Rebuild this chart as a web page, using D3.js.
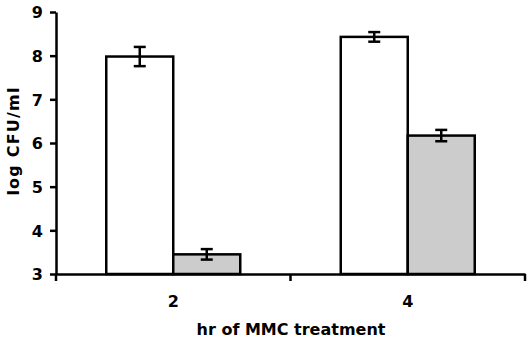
<!DOCTYPE html>
<html>
  <head>
    <meta charset="utf-8">
    <title>log CFU/ml by hr of MMC treatment</title>
    <script src="https://cdn.jsdelivr.net/npm/d3@7"></script>
    <style>
      body { margin: 0; background: #fff; }
      text { font-family: "DejaVu Sans", Verdana, sans-serif; font-weight: bold; fill: #000; }
    </style>
  </head>
  <body>
    <svg id="chart" width="532" height="342"></svg>

    <script>
      // data
      const hours = ["2", "4"];
      const series = ["control", "mmc"];
      const controlMeans = [7.98, 8.43];
      const controlErrs = [0.22, 0.11];
      const mmcMeans = [3.45, 6.17];
      const mmcErrs = [0.12, 0.13];
      const yTicks = [3, 4, 5, 6, 7, 8, 9];

      const fills = { control: "#ffffff", mmc: "#cccccc" };

      const rows = [];
      hours.forEach(function(h, i) {
        rows.push({ hr: h, key: "control", mean: controlMeans[i], err: controlErrs[i] });
        rows.push({ hr: h, key: "mmc", mean: mmcMeans[i], err: mmcErrs[i] });
      });

      // layout
      const svg = d3.select("#chart");
      const pLeft = 56, pRight = 525, pTop = 12, pBottom = 274;

      const x = d3.scaleBand()
        .domain(hours)
        .range([pLeft, pRight]);
      const xInner = d3.scaleBand()
        .domain(series)
        .range([0, 134]);
      const y = d3.scaleLinear()
        .domain([3, 9])
        .range([pBottom, pTop]);

      function barX(d) { return x(d.hr) + x.bandwidth() / 2 - 67 + xInner(d.key); }

      // bars
      const g = svg.append("g");
      g.selectAll("rect")
        .data(rows)
      .enter().append("rect")
        .attr("x", barX)
        .attr("y", function(d) { return y(d.mean); })
        .attr("width", xInner.bandwidth())
        .attr("height", function(d) { return pBottom - y(d.mean); })
        .attr("fill", function(d) { return fills[d.key]; })
        .attr("stroke", "#000")
        .attr("stroke-width", 2.5);

      // error bars
      const errs = g.selectAll("g.err")
        .data(rows)
      .enter().append("g")
        .attr("class", "err")
        .attr("transform", function(d) {
          return "translate(" + (barX(d) + xInner.bandwidth() / 2) + ",0)";
        });
      errs.append("line")
        .attr("y1", function(d) { return y(d.mean + d.err); })
        .attr("y2", function(d) { return y(d.mean - d.err); });
      errs.append("line")
        .attr("x1", -6).attr("x2", 6)
        .attr("y1", function(d) { return y(d.mean + d.err); })
        .attr("y2", function(d) { return y(d.mean + d.err); });
      errs.append("line")
        .attr("x1", -6).attr("x2", 6)
        .attr("y1", function(d) { return y(d.mean - d.err); })
        .attr("y2", function(d) { return y(d.mean - d.err); });
      errs.selectAll("line")
        .attr("stroke", "#000")
        .attr("stroke-width", 2.5);

      // axes
      const yAxis = svg.append("g")
        .attr("transform", "translate(" + pLeft + ",0)")
        .call(d3.axisLeft(y).tickValues(yTicks).tickSize(6).tickSizeOuter(0).tickFormat(d3.format("d")));
      const xAxis = svg.append("g")
        .attr("transform", "translate(0," + pBottom + ")")
        .call(d3.axisBottom(x).tickSize(0).tickSizeOuter(0));

      // category boundary ticks on x axis
      xAxis.selectAll("line.sep")
        .data([pLeft, pLeft + x.bandwidth(), pRight])
      .enter().append("line")
        .attr("class", "sep")
        .attr("x1", function(d) { return d; })
        .attr("x2", function(d) { return d; })
        .attr("y1", 0)
        .attr("y2", 7);

      svg.selectAll(".domain, .tick line, line.sep")
        .attr("stroke", "#000")
        .attr("stroke-width", 2.5);
      svg.selectAll("g").attr("font-family", null).attr("font-size", null);
      yAxis.selectAll(".tick text")
        .attr("x", -13)
        .attr("dy", "0.36em")
        .style("font-size", "16px");
      xAxis.selectAll(".tick text")
        .attr("y", 22)
        .style("font-size", "16px");

      // titles
      svg.append("text")
        .attr("transform", "translate(19,141) rotate(-90)")
        .attr("text-anchor", "middle")
        .style("font-size", "16px")
        .style("letter-spacing", "1.2px")
        .text("log CFU/ml");
      svg.append("text")
        .attr("x", 291)
        .attr("y", 335)
        .attr("text-anchor", "middle")
        .style("font-size", "16px")
        .text("hr of MMC treatment");
    </script>
  </body>
</html>
